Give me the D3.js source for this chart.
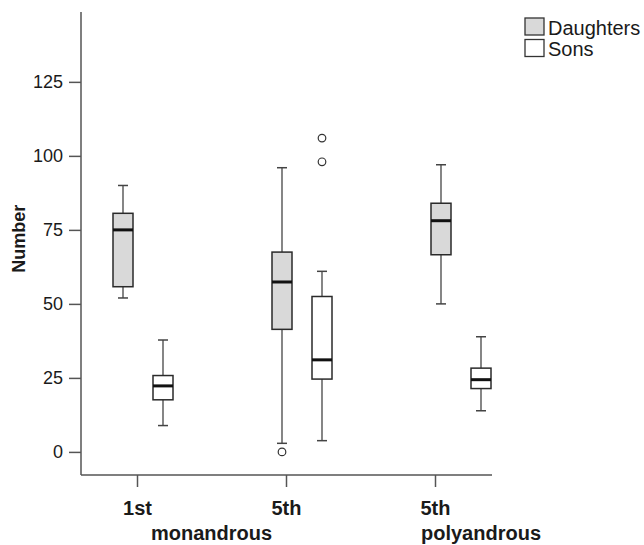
<!DOCTYPE html>
<html>
<head>
<meta charset="utf-8">
<script src="https://cdn.jsdelivr.net/npm/d3@7"></script>
<style>
  html, body { margin: 0; padding: 0; background: #fff; }
  svg { display: block; font-family: Arial, 'Liberation Sans', sans-serif; }
</style>
</head>
<body>
<svg width="644" height="545"></svg>
<script>
// groups on the x axis
const groups = ['1st monandrous', '5th monandrous', '5th polyandrous'];
const tickLabels = ['1st', '5th', '5th'];
const series = ['Daughters', 'Sons'];
const seriesFill = ['#d9d9d9', '#ffffff'];

// [low whisker, q1, median, q3, high whisker]
const daughters = [
    [52, 55.8, 75, 80.6, 90],
    [2.9, 41.4, 57.4, 67.5, 96],
    [50, 66.6, 78.1, 84, 97]
];
const sons = [
    [8.9, 17.6, 22.3, 25.8, 37.8],
    [3.8, 24.6, 31.1, 52.5, 61],
    [13.9, 21.4, 24.4, 28.3, 38.9]
];
const daughtersOutliers = [[], [0], []];
const sonsOutliers = [[], [98, 106], []];
const yTicks = [0, 25, 50, 75, 100, 125];

const svg = d3.select('svg');

const y = d3.scaleLinear().domain([-7.8, 148.6]).range([475, 12]);
const xAxisScale = d3.scalePoint().domain(groups).range([137, 435]);
const xGroup = d3.scaleBand().domain(groups).range([63.5, 540.5]);
const xSeries = d3
    .scaleBand()
    .domain(series)
    .range([39.5, 119.5])
    .paddingInner(0.5)
    .paddingOuter(0.25);

const axisColor = '#555';
const textColor = '#1a1a1a';

// y axis
const yAxis = svg
    .append('g')
    .attr('transform', 'translate(81,0)')
    .call(d3.axisLeft(y).tickValues(yTicks).tickSize(12).tickPadding(6));
yAxis.select('.domain').attr('d', `M0,${y.range()[1]}V${y.range()[0]}`);
yAxis.selectAll('line, .domain').attr('stroke', axisColor).attr('stroke-width', 1.5);
yAxis
    .selectAll('text')
    .attr('fill', textColor)
    .style('font-size', '18px')
    .attr('font-family', null);

// x axis
const xAxis = svg
    .append('g')
    .attr('transform', 'translate(0,475)')
    .call(
        d3
            .axisBottom(xAxisScale)
            .tickSize(12)
            .tickPadding(14)
            .tickFormat((d, i) => tickLabels[i])
    );
xAxis.select('.domain').attr('d', 'M81,0H492');
xAxis.selectAll('line, .domain').attr('stroke', axisColor).attr('stroke-width', 1.5);
xAxis
    .selectAll('text')
    .attr('fill', textColor)
    .style('font-size', '20px')
    .style('font-weight', 'bold')
    .attr('font-family', null);

// second line of category labels
svg.append('text')
    .attr('x', (xAxisScale(groups[0]) + xAxisScale(groups[1])) / 2)
    .attr('y', 540)
    .attr('text-anchor', 'middle')
    .attr('fill', textColor)
    .style('font-size', '20px')
    .style('font-weight', 'bold')
    .text('monandrous');
svg.append('text')
    .attr('x', xAxisScale(groups[2]) - 14)
    .attr('y', 540)
    .attr('text-anchor', 'start')
    .attr('fill', textColor)
    .style('font-size', '20px')
    .style('font-weight', 'bold')
    .text('polyandrous');

// y title
svg.append('text')
    .attr('transform', `translate(25,${y(72)}) rotate(-90)`)
    .attr('text-anchor', 'middle')
    .attr('fill', textColor)
    .style('font-size', '18px')
    .style('font-weight', 'bold')
    .text('Number');

// boxes
const boxData = [];
groups.forEach((g, i) => {
    boxData.push({ group: g, series: series[0], s: daughters[i], out: daughtersOutliers[i] });
    boxData.push({ group: g, series: series[1], s: sons[i], out: sonsOutliers[i] });
});

const bw = xSeries.bandwidth();
const box = svg
    .append('g')
    .selectAll('g')
    .data(boxData)
    .enter()
    .append('g')
    .attr('transform', (d) => `translate(${xGroup(d.group) + xSeries(d.series)},0)`);

// whiskers
box.append('line')
    .attr('x1', bw / 2)
    .attr('x2', bw / 2)
    .attr('y1', (d) => y(d.s[0]))
    .attr('y2', (d) => y(d.s[1]))
    .attr('stroke', '#444')
    .attr('stroke-width', 1.3);
box.append('line')
    .attr('x1', bw / 2)
    .attr('x2', bw / 2)
    .attr('y1', (d) => y(d.s[3]))
    .attr('y2', (d) => y(d.s[4]))
    .attr('stroke', '#444')
    .attr('stroke-width', 1.3);
[0, 4].forEach((k) => {
    box.append('line')
        .attr('x1', bw / 2 - 5)
        .attr('x2', bw / 2 + 5)
        .attr('y1', (d) => y(d.s[k]))
        .attr('y2', (d) => y(d.s[k]))
        .attr('stroke', '#444')
        .attr('stroke-width', 1.5);
});

box.append('rect')
    .attr('x', 0)
    .attr('width', bw)
    .attr('y', (d) => y(d.s[3]))
    .attr('height', (d) => y(d.s[1]) - y(d.s[3]))
    .attr('fill', (d) => seriesFill[series.indexOf(d.series)])
    .attr('stroke', '#2a2a2a')
    .attr('stroke-width', 1.5);

box.append('line')
    .attr('x1', 0)
    .attr('x2', bw)
    .attr('y1', (d) => y(d.s[2]))
    .attr('y2', (d) => y(d.s[2]))
    .attr('stroke', '#111')
    .attr('stroke-width', 3);

box.selectAll('circle')
    .data((d) => d.out)
    .enter()
    .append('circle')
    .attr('cx', bw / 2)
    .attr('cy', (v) => y(v))
    .attr('r', 3.8)
    .attr('fill', '#fff')
    .attr('stroke', '#333')
    .attr('stroke-width', 1.2);

// legend
const legend = svg
    .append('g')
    .selectAll('g')
    .data(series)
    .enter()
    .append('g')
    .attr('transform', (d, i) => `translate(525,${18 + i * 21.5})`);
legend
    .append('rect')
    .attr('width', 19)
    .attr('height', 17)
    .attr('fill', (d, i) => seriesFill[i])
    .attr('stroke', '#333')
    .attr('stroke-width', 1.3);
legend
    .append('text')
    .attr('x', 23)
    .attr('y', 16.5)
    .attr('fill', textColor)
    .style('font-size', '20px')
    .text((d) => d);
</script>
</body>
</html>
